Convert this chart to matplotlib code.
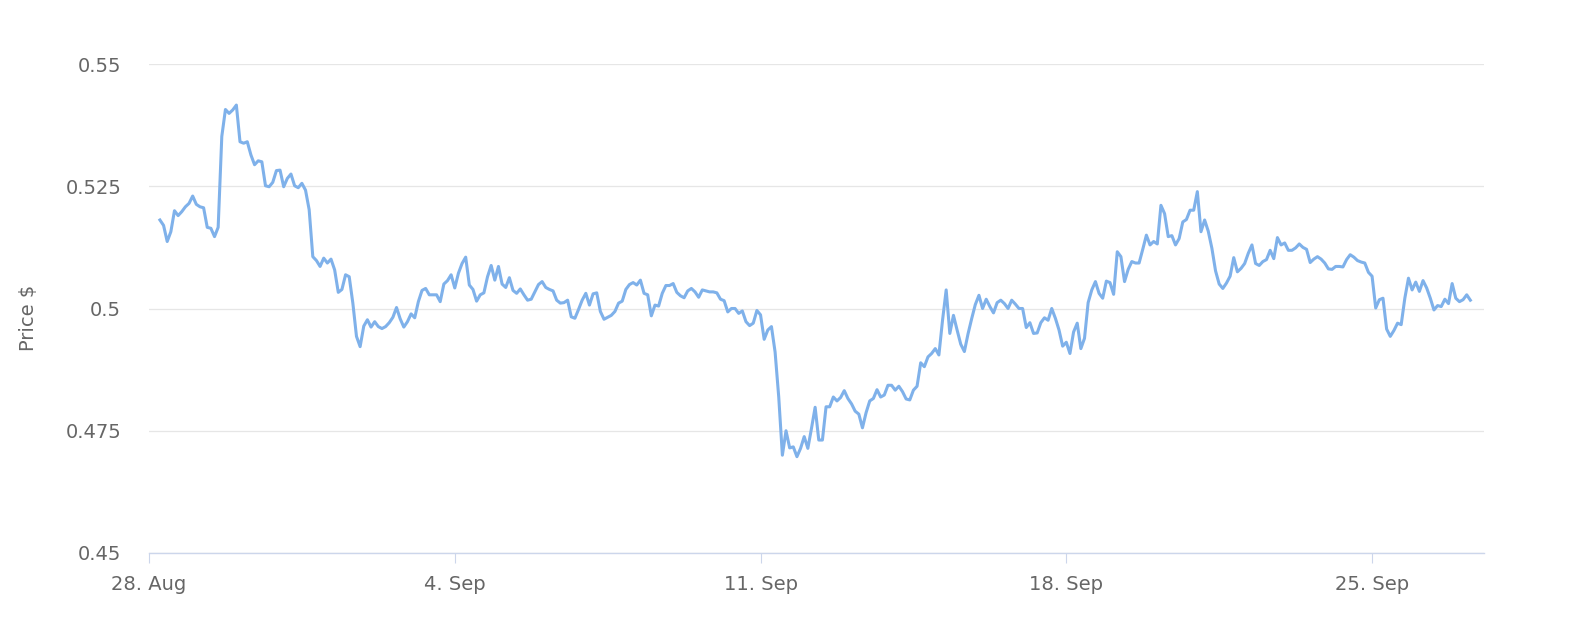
import matplotlib
matplotlib.use("Agg")

import matplotlib.dates as mdates
import matplotlib.pyplot as plt
import pandas as pd

# %%
# Data: price every 2 hours, one row per day,
# first point on 28 Aug 06:00

start = "2017-08-28 06:00"
step = "2h"
prices = [
    0.5181, 0.5170, 0.5137, 0.5157, 0.5200, 0.5190, 0.5198, 0.5208, 0.5215, 0.5230, 0.5213, 0.5208,
    0.5206, 0.5166, 0.5164, 0.5147, 0.5166, 0.5352, 0.5407, 0.5399, 0.5406, 0.5416, 0.5341, 0.5338,
    0.5341, 0.5314, 0.5294, 0.5302, 0.5300, 0.5251, 0.5249, 0.5258, 0.5282, 0.5283, 0.5249, 0.5266,
    0.5275, 0.5251, 0.5247, 0.5256, 0.5242, 0.5202, 0.5106, 0.5098, 0.5086, 0.5103, 0.5093, 0.5101,
    0.5079, 0.5033, 0.5039, 0.5069, 0.5065, 0.5011, 0.4943, 0.4922, 0.4964, 0.4977, 0.4962, 0.4973,
    0.4963, 0.4959, 0.4963, 0.4971, 0.4982, 0.5002, 0.4979, 0.4962, 0.4973, 0.4989, 0.4981, 0.5014,
    0.5037, 0.5041, 0.5028, 0.5028, 0.5028, 0.5014, 0.5050, 0.5057, 0.5069, 0.5042, 0.5072, 0.5092,
    0.5105, 0.5048, 0.5039, 0.5015, 0.5028, 0.5032, 0.5065, 0.5088, 0.5058, 0.5086, 0.5050, 0.5043,
    0.5063, 0.5037, 0.5031, 0.5040, 0.5028, 0.5017, 0.5019, 0.5034, 0.5049, 0.5055, 0.5043, 0.5039,
    0.5036, 0.5017, 0.5011, 0.5012, 0.5017, 0.4983, 0.4980, 0.4998, 0.5017, 0.5031, 0.5007, 0.5030,
    0.5032, 0.4994, 0.4978, 0.4982, 0.4986, 0.4994, 0.5011, 0.5015, 0.5039, 0.5049, 0.5053, 0.5048,
    0.5058, 0.5031, 0.5028, 0.4985, 0.5007, 0.5005, 0.5031, 0.5047, 0.5047, 0.5051, 0.5033, 0.5026,
    0.5022, 0.5036, 0.5041, 0.5034, 0.5023, 0.5038, 0.5036, 0.5034, 0.5034, 0.5032, 0.5019, 0.5016,
    0.4993, 0.5000, 0.5000, 0.4990, 0.4995, 0.4973, 0.4965, 0.4970, 0.4996, 0.4987, 0.4937, 0.4956,
    0.4963, 0.4911, 0.4819, 0.4700, 0.4750, 0.4715, 0.4717, 0.4697, 0.4714, 0.4738, 0.4714, 0.4755,
    0.4798, 0.4731, 0.4731, 0.4799, 0.4799, 0.4819, 0.4811, 0.4818, 0.4832, 0.4816, 0.4805, 0.4790,
    0.4784, 0.4756, 0.4787, 0.4811, 0.4816, 0.4834, 0.4819, 0.4823, 0.4843, 0.4843, 0.4833, 0.4841,
    0.4830, 0.4815, 0.4813, 0.4833, 0.4841, 0.4889, 0.4881, 0.4901, 0.4908, 0.4918, 0.4905, 0.4976,
    0.5038, 0.4949, 0.4986, 0.4956, 0.4927, 0.4912, 0.4948, 0.4979, 0.5008, 0.5027, 0.5000, 0.5019,
    0.5004, 0.4991, 0.5012, 0.5017, 0.5010, 0.5000, 0.5017, 0.5009, 0.5000, 0.5000, 0.4961, 0.4971,
    0.4949, 0.4950, 0.4971, 0.4981, 0.4976, 0.5000, 0.4980, 0.4956, 0.4923, 0.4931, 0.4908, 0.4952,
    0.4970, 0.4918, 0.4939, 0.5012, 0.5038, 0.5055, 0.5031, 0.5021, 0.5056, 0.5053, 0.5029, 0.5116,
    0.5106, 0.5055, 0.5080, 0.5096, 0.5093, 0.5093, 0.5121, 0.5150, 0.5130, 0.5137, 0.5132, 0.5211,
    0.5194, 0.5147, 0.5149, 0.5130, 0.5143, 0.5177, 0.5182, 0.5201, 0.5201, 0.5239, 0.5157, 0.5181,
    0.5158, 0.5123, 0.5077, 0.5050, 0.5041, 0.5052, 0.5066, 0.5104, 0.5075, 0.5082, 0.5092, 0.5113,
    0.5130, 0.5092, 0.5088, 0.5096, 0.5100, 0.5119, 0.5102, 0.5145, 0.5130, 0.5134, 0.5119, 0.5119,
    0.5124, 0.5132, 0.5125, 0.5121, 0.5094, 0.5101, 0.5106, 0.5101, 0.5093, 0.5081, 0.5080, 0.5086,
    0.5086, 0.5085, 0.5100, 0.5110, 0.5105, 0.5098, 0.5095, 0.5093, 0.5074, 0.5066, 0.5001, 0.5018,
    0.5021, 0.4958, 0.4943, 0.4955, 0.4970, 0.4967, 0.5021, 0.5062, 0.5038, 0.5054, 0.5035, 0.5057,
    0.5042, 0.5021, 0.4997, 0.5006, 0.5004, 0.5019, 0.5010, 0.5051, 0.5021, 0.5014, 0.5018, 0.5028,
    0.5017,
]

y_ticks = [0.45, 0.475, 0.5, 0.525, 0.55]
y_tick_labels = ["0.45", "0.475", "0.5", "0.525", "0.55"]
x_range = ("2017-08-28 00:00", "2017-09-27 13:30")

times = pd.date_range(start, periods=len(prices), freq=step)

# %%
# Plot

LINE = "#7fb1ea"
GRID = "#e6e6e6"
AXIS = "#ccd6eb"
TEXT = "#666666"

fig = plt.figure(figsize=(15.9, 6.38), dpi=100)
ax = fig.add_axes([149 / 1590, 1 - 553 / 638, 1335 / 1590, 489 / 638])

ax.plot(times, prices, color=LINE, lw=2.2, solid_joinstyle="round", zorder=3)

ax.set_xlim(pd.Timestamp(x_range[0]), pd.Timestamp(x_range[1]))
ax.set_ylim(y_ticks[0], y_ticks[-1])

ax.set_yticks(y_ticks)
ax.set_yticklabels(y_tick_labels)
ax.yaxis.grid(True, color=GRID, lw=0.9, zorder=0)
ax.tick_params(axis="y", length=0, pad=20, labelsize=14, labelcolor=TEXT)

ax.xaxis.set_major_locator(mdates.WeekdayLocator(byweekday=mdates.MO))
ax.xaxis.set_major_formatter(mdates.DateFormatter("%-d. %b"))
ax.tick_params(axis="x", length=7.5, width=0.8, color=AXIS, pad=8,
               labelsize=14, labelcolor=TEXT)

for side in ("top", "right", "left"):
    ax.spines[side].set_visible(False)
ax.spines["bottom"].set_color(AXIS)
ax.spines["bottom"].set_linewidth(1.0)

# label anchor is the right edge of the rotated text
ax.set_ylabel("Price $", fontsize=14, color=TEXT)
ax.yaxis.set_label_coords(-0.0835, 0.48)

fig.savefig("out.png", dpi=100)
